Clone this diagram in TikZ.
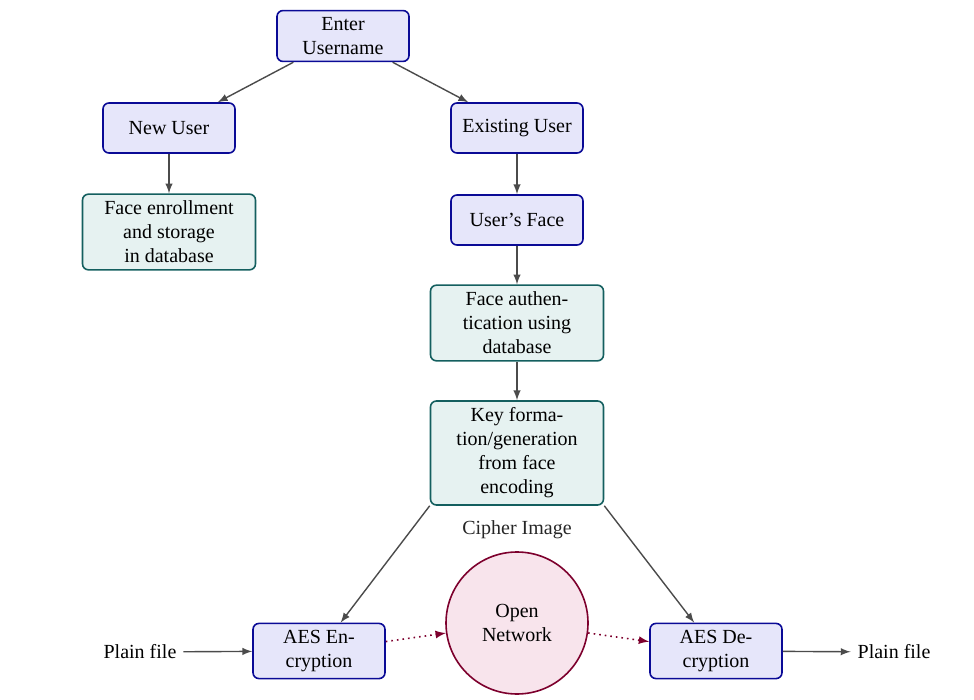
\documentclass[tikz,border=0pt]{standalone}
\usepackage{fontspec}
\setmainfont{Liberation Serif}
\usepackage{tikz}

\definecolor{userfill}{RGB}{230,230,250}
\definecolor{userline}{RGB}{10,10,150}
\definecolor{stepfill}{RGB}{230,242,241}
\definecolor{stepline}{RGB}{20,95,95}
\definecolor{netfill}{RGB}{248,228,236}
\definecolor{netline}{RGB}{125,0,45}
\definecolor{arrowgray}{RGB}{75,75,75}

\begin{document}
\begin{tikzpicture}[x=0.5pt, y=-0.5pt,
    userbox/.style = {draw=userline, fill=userfill, line width=0.8pt, rounded corners=3pt,
                      align=center, minimum width=66pt, minimum height=25pt, inner ysep=3.4pt},
    stepbox/.style = {draw=stepline, fill=stepfill, line width=0.8pt, rounded corners=3pt,
                      align=center, minimum width=86.5pt, inner ysep=3.4pt},
    netnode/.style = {draw=netline, fill=netfill, line width=0.8pt, circle, align=center,
                      minimum size=71pt, inner sep=0pt},
    flow/.style = {draw=arrowgray, line width=0.7pt, -latex},
    send/.style = {draw=netline, line width=0.8pt, dotted, -latex}]
    \useasboundingbox (0,0) rectangle (974,700);
    \node[userbox] (1) at (343,36) {Enter\\Username};
    \node[userbox] (2) at (169,128) {New User};
    \node[userbox] (3) at (517,128) {Existing User};
    \node[stepbox] (4) at (169,232) {Face enrollment\\and storage\\in database};
    \node[userbox] (5) at (517,220) {User's Face};
    \node[stepbox] (6) at (517,323) {Face authen-\\tication using\\database};
    \node[stepbox] (7) at (517,453) {Key forma-\\tion/generation\\from face\\encoding};
    \node[text=black!85] (8) at (517,530) {Cipher Image};
    \node[userbox] (9) at (319,651) {AES En-\\cryption};
    \node[netnode] (10) at (517,623) {Open\\Network};
    \node[userbox] (11) at (716,651) {AES De-\\cryption};
    \node (12) at (140,652) {Plain file};
    \node (13) at (894,652) {Plain file};
    \draw[flow] (1) -- (2);
    \draw[flow] (1) -- (3);
    \draw[flow] (2) -- (4);
    \draw[flow] (3) -- (5);
    \draw[flow] (5) -- (6);
    \draw[flow] (6) -- (7);
    \draw[flow] (7.south west) -- (9);
    \draw[flow] (7.south east) -- (11);
    \draw[flow] (12) -- (9);
    \draw[flow] (11) -- (13);
    \draw[send] (9) -- (10);
    \draw[send] (10) -- (11);
\end{tikzpicture}
\end{document}
